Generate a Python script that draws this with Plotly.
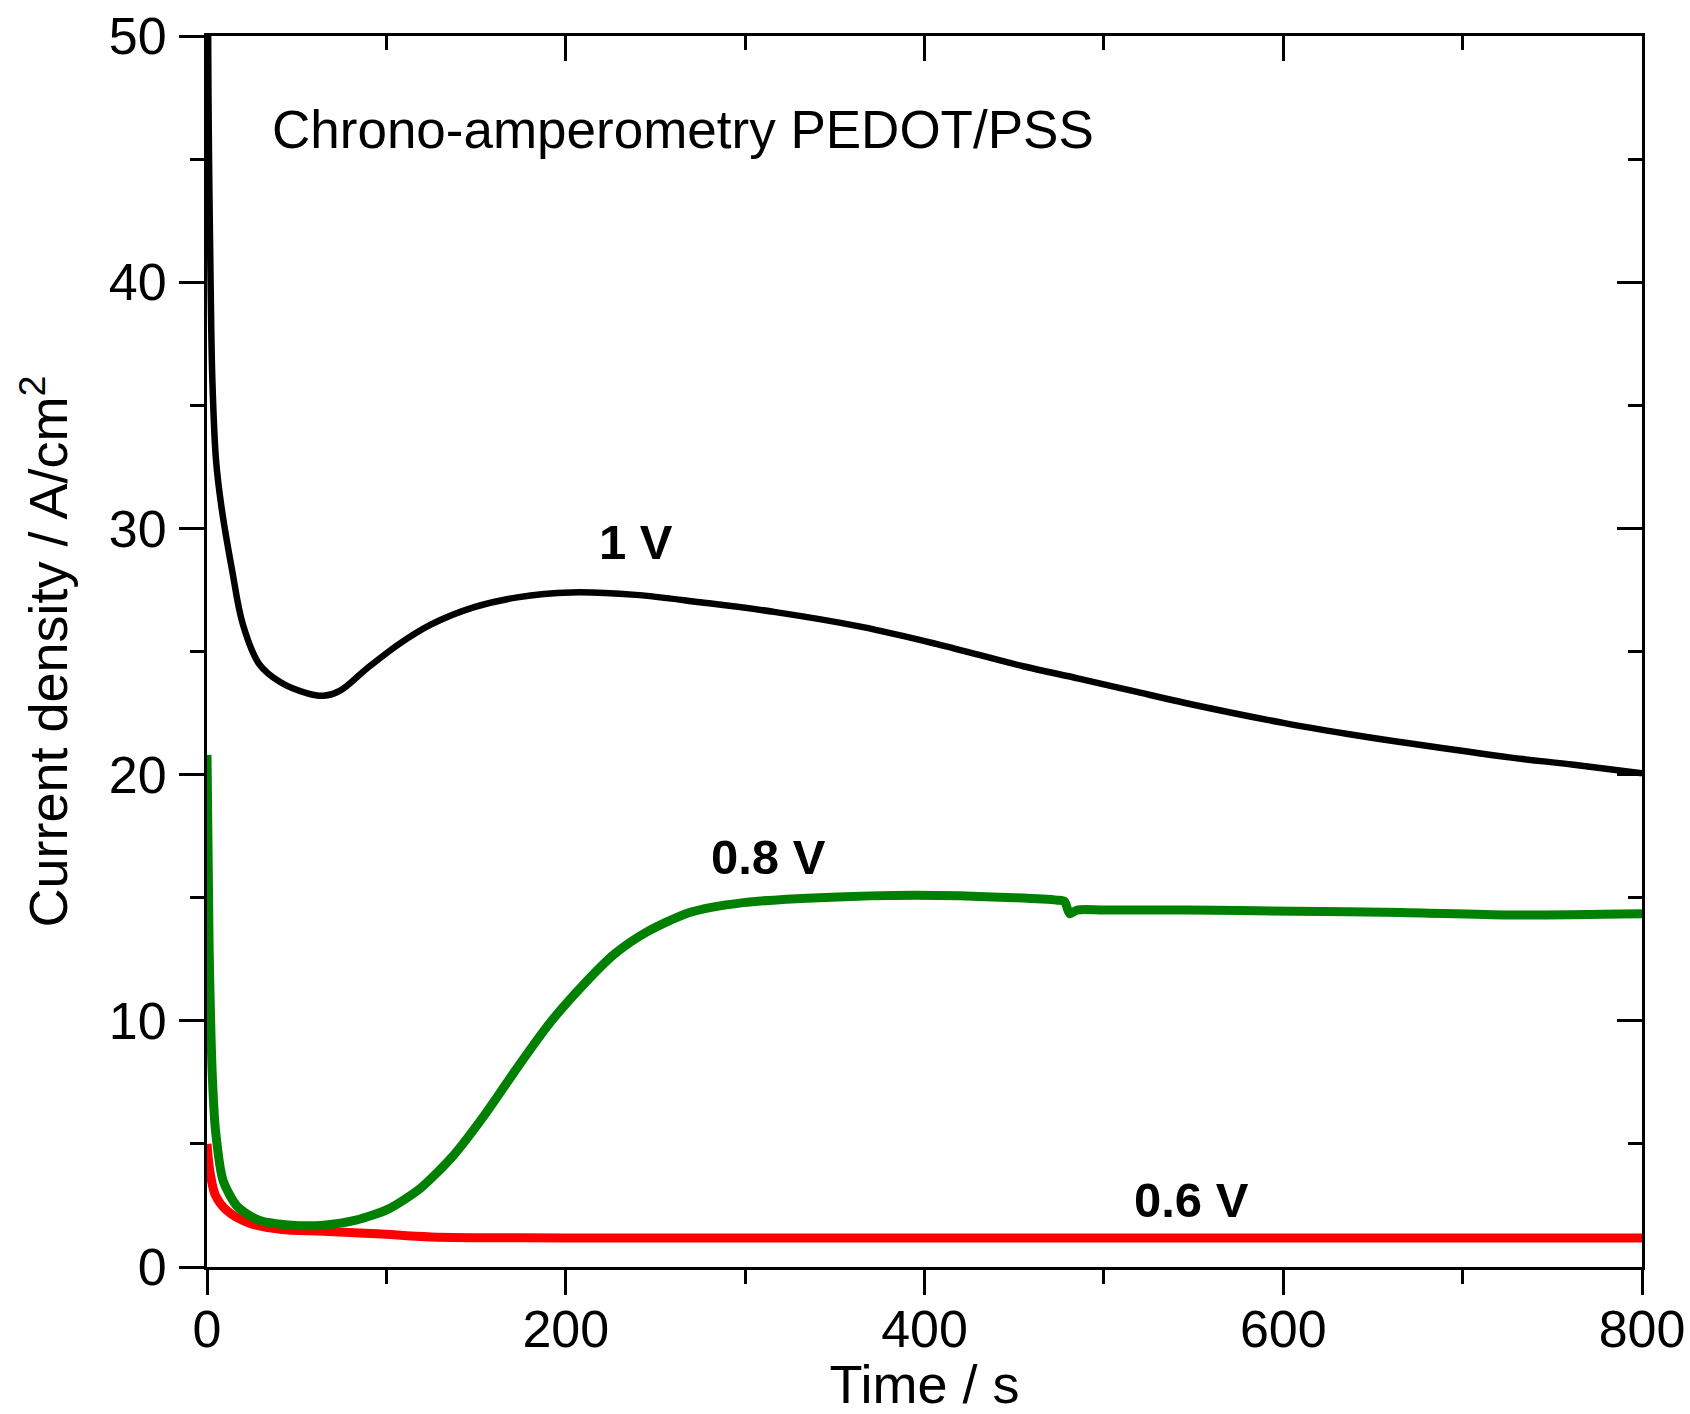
import plotly.graph_objects as go

# ---- data ----
t_1v = [0, 0.5, 1, 2, 3, 5, 8, 14, 20, 29, 41, 56, 65, 74, 89, 107, 125, 149, 173, 203, 239, 275,
        317, 365, 407, 455, 486, 516, 546, 600, 636, 672, 726, 762, 800]
j_1v = [75, 52, 46, 40, 36, 32.8, 30.9, 28.3, 26.1, 24.5, 23.75, 23.3, 23.2, 23.4, 24.3, 25.3, 26.1,
        26.8, 27.2, 27.4, 27.3, 27.0, 26.6, 26.0, 25.3, 24.4, 23.9, 23.4, 22.9, 22.1, 21.65, 21.25,
        20.7, 20.4, 20.05]

t_08v = [0, 1.2, 3, 4.8, 9, 17, 29, 47, 65, 83, 101, 119, 137, 155, 173, 191, 209, 227, 245, 269,
         299, 341, 395, 450, 474, 478, 481, 485, 500, 546, 606, 666, 726, 800]
j_08v = [20.8, 12.9, 7.7, 5.5, 3.5, 2.45, 1.9, 1.7, 1.7, 1.9, 2.35, 3.2, 4.5, 6.2, 8.1, 9.9, 11.4,
         12.7, 13.6, 14.4, 14.8, 15.0, 15.1, 15.0, 14.9, 14.85, 14.35, 14.5, 14.5, 14.5, 14.45, 14.4,
         14.3, 14.35]

t_06v = [0, 1.8, 4.8, 11, 23, 41, 65, 95, 125, 200, 400, 600, 800]
j_06v = [5.0, 3.8, 2.9, 2.3, 1.8, 1.53, 1.45, 1.35, 1.22, 1.18, 1.18, 1.18, 1.18]

x_ticks = [0, 200, 400, 600, 800]
y_ticks = [0, 10, 20, 30, 40, 50]

FONT = "Arial, Liberation Sans, sans-serif"

fig = go.Figure()
fig.add_trace(go.Scatter(x=t_1v, y=j_1v, mode="lines", line=dict(color="#000000", width=6.5),
                         line_shape="spline", name="1 V"))
fig.add_trace(go.Scatter(x=t_06v, y=j_06v, mode="lines", line=dict(color="#ff0000", width=9),
                         line_shape="spline", name="0.6 V"))
fig.add_trace(go.Scatter(x=t_08v, y=j_08v, mode="lines", line=dict(color="#008000", width=9,
                         shape="spline", smoothing=0.7), name="0.8 V"))
# dummy trace to anchor top/right mirror axes
fig.add_trace(go.Scatter(x=[None], y=[None], xaxis="x2", yaxis="y2", showlegend=False,
                         hoverinfo="skip"))

axis_common = dict(showline=True, linecolor="black", linewidth=3, showgrid=False, zeroline=False,
                   tickcolor="black", tickwidth=3, automargin=False,
                   tickfont=dict(family=FONT, size=52, color="black"))

fig.update_layout(
    width=1690, height=1414,
    margin=dict(l=207, r=48, t=36, b=147),
    paper_bgcolor="white", plot_bgcolor="white",
    showlegend=False,
    xaxis=dict(range=[0, 800], tickvals=x_ticks, ticks="outside", ticklen=25,
               minor=dict(dtick=100, ticks="outside", ticklen=14, tickwidth=3, tickcolor="black"),
               ticklabelstandoff=-10,
               title=dict(text="Time / s", font=dict(family=FONT, size=54, color="black"), standoff=14),
               **axis_common),
    yaxis=dict(range=[0, 50], tickvals=y_ticks, ticks="outside", ticklen=25,
               minor=dict(dtick=5, ticks="outside", ticklen=14, tickwidth=3, tickcolor="black"),
               ticklabelstandoff=2,
               title=dict(text="Current density / A/cm<sup>2</sup>",
                          font=dict(family=FONT, size=54, color="black"), standoff=24),
               **axis_common),
    xaxis2=dict(range=[0, 800], overlaying="x", side="top", anchor="y2", tickvals=x_ticks,
                ticks="inside", ticklen=25, showticklabels=False,
                minor=dict(dtick=100, ticks="inside", ticklen=14, tickwidth=3, tickcolor="black"),
                **axis_common),
    yaxis2=dict(range=[0, 50], overlaying="y", side="right", anchor="x2", tickvals=y_ticks,
                ticks="inside", ticklen=25, showticklabels=False,
                minor=dict(dtick=5, ticks="inside", ticklen=14, tickwidth=3, tickcolor="black"),
                **axis_common),
)

fig.add_annotation(x=35, y=46.2, xref="x", yref="y", text="Chrono-amperometry PEDOT/PSS",
                   showarrow=False, xanchor="left", yanchor="middle",
                   font=dict(family=FONT, size=53, color="black"))
fig.add_annotation(x=239, y=29.45, xref="x", yref="y", text="<b>1 V</b>", showarrow=False,
                   font=dict(family=FONT, size=49, color="black"))
fig.add_annotation(x=313, y=16.65, xref="x", yref="y", text="<b>0.8 V</b>", showarrow=False,
                   font=dict(family=FONT, size=49, color="black"))
fig.add_annotation(x=549, y=2.72, xref="x", yref="y", text="<b>0.6 V</b>", showarrow=False,
                   font=dict(family=FONT, size=49, color="black"))

fig.write_html("out.html")
